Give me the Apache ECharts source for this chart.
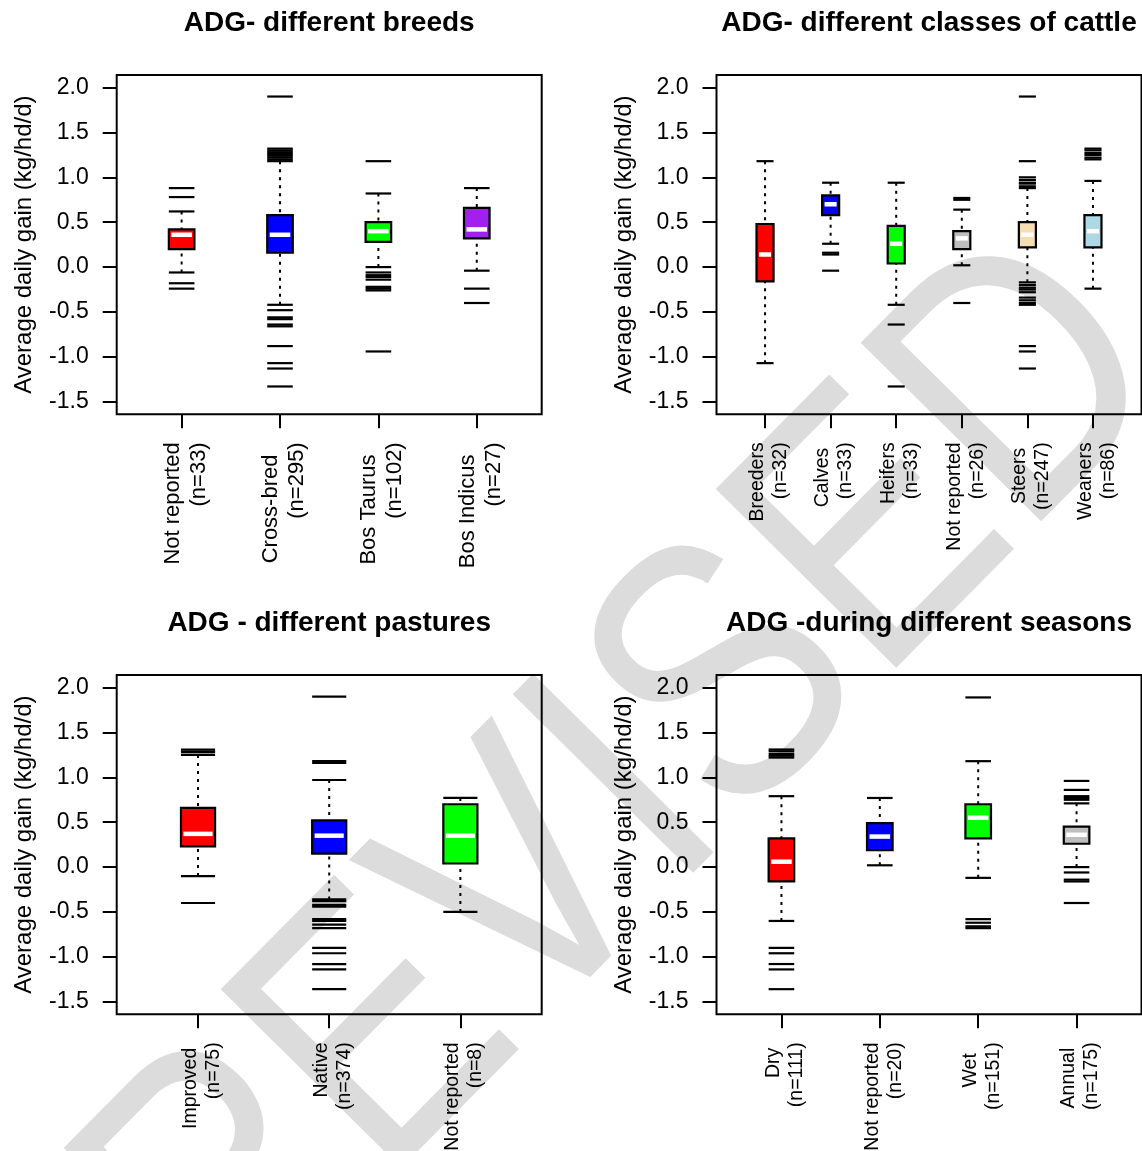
<!DOCTYPE html>
<html>
<head>
<meta charset="utf-8"/>
<title>ADG boxplots</title>
<script src="https://cdn.jsdelivr.net/npm/echarts@6.0.0/dist/echarts.min.js"></script>
<style>
  html, body { margin: 0; padding: 0; background: #fff; }
  #main { width: 1142px; height: 1151px; }
</style>
</head>
<body>
<div id="main"></div>
<script>
// --- breeds (top left); trailing spaces are part of the original labels
const breedNames = ['Not reported', 'Cross-bred  ', 'Bos Taurus  ', 'Bos Indicus  ']
const breedN = [33, 295, 102, 27]
const breedLow = [-0.06, -0.42, 0.0, -0.04]
const breedQ1 = [0.20, 0.16, 0.28, 0.32]
const breedMed = [0.36, 0.36, 0.40, 0.42]
const breedQ3 = [0.42, 0.58, 0.50, 0.66]
const breedHigh = [0.62, 1.18, 0.82, 0.88]
const breedOut = [
  [0.88, 0.78, -0.18, -0.24],
  [1.90, 1.32, 1.30, 1.28, 1.26, 1.24, 1.22, 1.20, -0.48, -0.56, -0.58, -0.64, -0.66, -0.88, -1.07, -1.13, -1.33],
  [1.18, -0.06, -0.09, -0.11, -0.14, -0.22, -0.24, -0.26, -0.94],
  [-0.24, -0.40]
]
const breedColors = ['#FF0000', '#0000FF', '#00FF00', '#A020F0']

// --- classes of cattle (top right)
const classNames = ['Breeders', 'Calves ', 'Heifers', 'Not reported', 'Steers ', 'Weaners']
const classN = [32, 33, 33, 26, 247, 86]
const classLow = [-1.07, 0.26, -0.42, 0.02, -0.17, -0.24]
const classQ1 = [-0.16, 0.58, 0.04, 0.20, 0.22, 0.22]
const classMed = [0.14, 0.70, 0.26, 0.32, 0.36, 0.40]
const classQ3 = [0.48, 0.80, 0.46, 0.40, 0.50, 0.58]
const classHigh = [1.18, 0.94, 0.94, 0.64, 0.88, 0.96]
const classOut = [
  [],
  [0.16, 0.14, -0.04],
  [-0.64, -1.33],
  [0.77, 0.75, -0.40],
  [1.90, 1.18, 1.00, 0.97, 0.94, 0.93, 0.90, -0.20, -0.23, -0.25, -0.28, -0.34, -0.37, -0.40, -0.42, -0.88, -0.94, -1.13],
  [1.32, 1.30, 1.27, 1.25, 1.22, 1.20]
]
const classColors = ['#FF0000', '#0000FF', '#00FF00', '#BEBEBE', '#F5DEB3', '#ADD8E6']

// --- pastures (bottom left)
const pastureNames = ['Improved ', 'Native', 'Not reported']
const pastureN = [75, 374, 8]
const pastureLow = [-0.10, -0.36, -0.50]
const pastureQ1 = [0.23, 0.15, 0.04]
const pastureMed = [0.37, 0.35, 0.35]
const pastureQ3 = [0.66, 0.52, 0.70]
const pastureHigh = [1.25, 0.97, 0.77]
const pastureOut = [
  [1.31, 1.29, 1.28, -0.40],
  [1.90, 1.18, 1.16, -0.38, -0.42, -0.44, -0.58, -0.60, -0.64, -0.68, -0.90, -0.96, -1.08, -1.14, -1.36],
  []
]
const pastureColors = ['#FF0000', '#0000FF', '#00FF00']

// --- seasons (bottom right)
const seasonNames = ['Dry ', 'Not reported', 'Wet  ', 'Annual ']
const seasonN = [111, 20, 151, 175]
const seasonLow = [-0.60, 0.02, -0.12, 0.0]
const seasonQ1 = [-0.16, 0.19, 0.32, 0.26]
const seasonMed = [0.06, 0.34, 0.55, 0.36]
const seasonQ3 = [0.32, 0.49, 0.70, 0.45]
const seasonHigh = [0.79, 0.77, 1.18, 0.71]
const seasonOut = [
  [1.31, 1.29, 1.26, 1.24, 1.22, -0.90, -0.96, -1.08, -1.14, -1.36],
  [],
  [1.89, -0.58, -0.62, -0.66, -0.68],
  [0.96, 0.86, 0.79, 0.77, 0.75, -0.06, -0.14, -0.16, -0.40]
]
const seasonColors = ['#FF0000', '#0000FF', '#00FF00', '#BEBEBE']

const yTicks = [-1.5, -1.0, -0.5, 0.0, 0.5, 1.0, 1.5, 2.0]
const yName = 'Average daily gain (kg/hd/d)'

const FONT = '"Liberation Sans", Arial, Helvetica, sans-serif'
const BOX_HALF = 0.13

const panels = [
  { title: 'ADG- different breeds', names: breedNames, n: breedN, low: breedLow, q1: breedQ1, med: breedMed, q3: breedQ3, high: breedHigh, out: breedOut, colors: breedColors, left: 116.7, top: 75, labelSize: 22 },
  { title: 'ADG- different classes of cattle', names: classNames, n: classN, low: classLow, q1: classQ1, med: classMed, q3: classQ3, high: classHigh, out: classOut, colors: classColors, left: 716.5, top: 75, labelSize: 19.5 },
  { title: 'ADG - different pastures', names: pastureNames, n: pastureN, low: pastureLow, q1: pastureQ1, med: pastureMed, q3: pastureQ3, high: pastureHigh, out: pastureOut, colors: pastureColors, left: 116.7, top: 675, labelSize: 19.5 },
  { title: 'ADG -during different seasons', names: seasonNames, n: seasonN, low: seasonLow, q1: seasonQ1, med: seasonMed, q3: seasonQ3, high: seasonHigh, out: seasonOut, colors: seasonColors, left: 716.5, top: 675, labelSize: 19.5 }
]
const PW = 425
const PH = 339.3
const LABEL_SHIFT = 4 // px, labels sit a little right of their tick

function renderBox(params, api) {
  const x = api.value(0)
  const lo = api.coord([x, api.value(1)])
  const q1 = api.coord([x, api.value(2)])
  const md = api.coord([x, api.value(3)])
  const q3 = api.coord([x, api.value(4)])
  const hi = api.coord([x, api.value(5)])
  const l = api.coord([x - BOX_HALF, 0])[0]
  const r = api.coord([x + BOX_HALF, 0])[0]
  const cx = lo[0]
  const black = { stroke: '#000', lineWidth: 2.2 }
  const dashed = { stroke: '#000', lineWidth: 2, lineDash: [3, 5] }
  // whiskers start at the staple and run towards the box
  return {
    type: 'group',
    children: [
      { type: 'line', shape: { x1: cx, y1: lo[1], x2: cx, y2: q1[1] }, style: dashed },
      { type: 'line', shape: { x1: cx, y1: hi[1], x2: cx, y2: q3[1] }, style: dashed },
      { type: 'line', shape: { x1: l, y1: lo[1], x2: r, y2: lo[1] }, style: black },
      { type: 'line', shape: { x1: l, y1: hi[1], x2: r, y2: hi[1] }, style: black },
      { type: 'rect', shape: { x: l, y: q3[1], width: r - l, height: q1[1] - q3[1] },
        style: { fill: api.visual('color'), stroke: '#000', lineWidth: 2.2 } },
      { type: 'line', shape: { x1: l + 2.5, y1: md[1], x2: r - 2.5, y2: md[1] }, style: { stroke: '#fff', lineWidth: 4.5 } }
    ]
  }
}

function renderOut(params, api) {
  const x = api.value(0)
  const p1 = api.coord([x - BOX_HALF, api.value(1)])
  const p2 = api.coord([x + BOX_HALF, api.value(1)])
  return { type: 'line', shape: { x1: p1[0], y1: p1[1], x2: p2[0], y2: p2[1] }, style: { stroke: '#000', lineWidth: 2.2 } }
}

const grid = []
const xAxis = []
const yAxis = []
const series = []
const graphic = []

// watermark behind the plots (slightly condensed letters)
graphic.push({
  type: 'text', z: -1, x: 631, y: 791, rotation: 0.7906, scaleX: 0.837, scaleY: 1,
  style: { text: 'REVISED', font: '369px "Liberation Sans", Arial, sans-serif', fill: '#DCDCDC', align: 'center', verticalAlign: 'middle' }
})

panels.forEach((p, i) => {
  const k = p.names.length
  const cats = p.names.map((_, j) => j + 1)
  const xMin = 0.5 - 0.04 * k
  const xMax = k + 0.5 + 0.04 * k
  const shift = LABEL_SHIFT * (xMax - xMin) / PW
  grid.push({
    left: p.left, top: p.top, width: PW, height: PH, outerBoundsMode: 'none', containLabel: false,
    show: true, borderColor: '#000', borderWidth: 2, backgroundColor: 'transparent'
  })
  xAxis.push({
    type: 'value', gridIndex: i, min: xMin, max: xMax,
    axisLine: { show: false, onZero: false }, splitLine: { show: false },
    axisTick: { show: true, customValues: cats, length: 14, lineStyle: { color: '#000', width: 2 } },
    axisLabel: {
      customValues: cats.map(c => c + shift), rotate: 90, margin: 28,
      fontSize: p.labelSize, lineHeight: Math.round(p.labelSize * 1.2),
      showMinLabel: true, showMaxLabel: true, hideOverlap: false,
      color: '#000', fontFamily: FONT,
      formatter: v => p.names[Math.round(v) - 1] + '\n(n=' + p.n[Math.round(v) - 1] + ')'
    }
  })
  yAxis.push({
    type: 'value', gridIndex: i, min: -1.64, max: 2.14,
    axisLine: { show: false, onZero: false }, splitLine: { show: false },
    axisTick: { show: true, customValues: yTicks, length: 14, lineStyle: { color: '#000', width: 2 } },
    axisLabel: { customValues: yTicks, margin: 28, fontSize: 23, color: '#000', fontFamily: FONT, formatter: v => v.toFixed(1) },
    name: yName, nameLocation: 'middle', nameGap: 80,
    nameTextStyle: { fontSize: 24, color: '#000', fontFamily: FONT }
  })
  series.push({
    type: 'custom', xAxisIndex: i, yAxisIndex: i, renderItem: renderBox,
    data: cats.map((c, j) => ({ value: [c, p.low[j], p.q1[j], p.med[j], p.q3[j], p.high[j]], itemStyle: { color: p.colors[j] } }))
  })
  const outData = []
  p.out.forEach((list, j) => list.forEach(v => outData.push([j + 1, v])))
  series.push({ type: 'custom', xAxisIndex: i, yAxisIndex: i, renderItem: renderOut, data: outData })
  graphic.push({
    type: 'text', x: p.left + PW / 2, y: p.top - 52,
    style: { text: p.title, font: 'bold 28px "Liberation Sans", Arial, sans-serif', fill: '#000', align: 'center', verticalAlign: 'middle' }
  })
})

const myChart = echarts.init(document.getElementById('main'))
myChart.setOption({
  animation: false,
  backgroundColor: '#fff',
  textStyle: { fontFamily: FONT },
  grid: grid,
  xAxis: xAxis,
  yAxis: yAxis,
  series: series,
  graphic: graphic
})
</script>
</body>
</html>
